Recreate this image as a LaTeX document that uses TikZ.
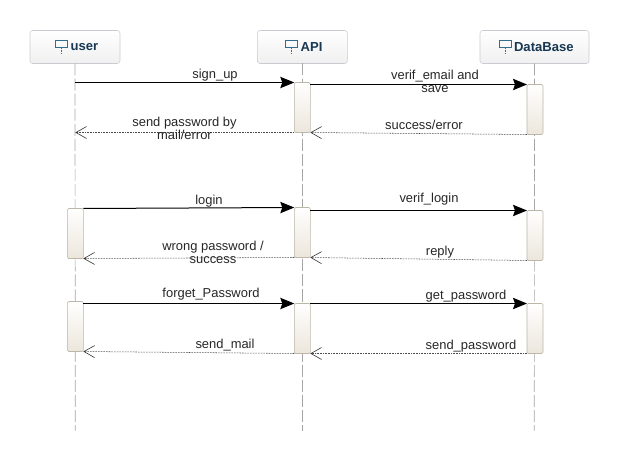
\documentclass[tikz,border=0pt]{standalone}
\usepackage{fontspec}
\setmainfont{Liberation Sans}
\usetikzlibrary{arrows.meta}

\definecolor{headtext}{RGB}{24,56,84}
\definecolor{headline}{RGB}{200,204,208}
\definecolor{iconblue}{RGB}{50,110,140}
\definecolor{barline}{RGB}{188,182,168}
\definecolor{barend}{RGB}{236,230,220}

\tikzset{
  headbox/.style={draw=headline, rounded corners=2pt, top color=white, bottom color=black!6, minimum width=67.5pt, minimum height=24.75pt, inner sep=0pt, outer sep=0pt, text=headtext, font=\fontsize{9.8}{11}\selectfont\bfseries},
  barbox/.style={draw=barline, rounded corners=1pt, top color=white, bottom color=barend, minimum width=12pt, minimum height=37.5pt, inner sep=0pt, outer sep=0pt},
  lifeline/.style={draw=black!35, line width=0.5pt, dash pattern={on 9pt off 2.3pt}},
  callarrow/.style={draw=black, line width=0.75pt, -{Stealth[length=10.5pt,width=8.5pt,inset=1.5pt]}},
  replyarrow/.style={draw=black!70, line width=0.4pt, dash pattern={on 1.2pt off 0.8pt}, -{Straight Barb[length=8pt,width=9pt,black!80,line width=0.45pt]}},
  msgtext/.style={inner sep=0pt, align=center, text=black!85, font=\fontsize{9.7}{9.75}\selectfont},
  iconline/.style={draw=iconblue, line width=0.55pt},
}

\begin{document}
\begin{tikzpicture}[x=0.75pt,y=0.75pt,yscale=-1,xscale=1]
\useasboundingbox (0,-0.5) rectangle (619,459.5);

%Head boxes
\node [headbox] (user) at (75,46.5) {\hspace{14pt}user};
\node [headbox] (api) at (302.3,46.5) {\hspace{14pt}API};
\node [headbox, minimum width=81.75pt] (db) at (534.5,46.5) {\hspace{14pt}DataBase};

%Icons
\draw [iconline] (55,39.5) rectangle (67,46.5);
\draw [iconline, dash pattern={on 1.5pt off 0.8pt}] (61,46.5) -- (61,53.5);
\draw [iconline] (285,39.5) rectangle (297,46.5);
\draw [iconline, dash pattern={on 1.5pt off 0.8pt}] (291,46.5) -- (291,53.5);
\draw [iconline] (499,39.5) rectangle (511,46.5);
\draw [iconline, dash pattern={on 1.5pt off 0.8pt}] (505,46.5) -- (505,53.5);

%Life lines
\coordinate (userend) at (75.3,430);
\coordinate (apiend) at (302.3,430);
\coordinate (dbend) at (534.3,430);
\draw [lifeline] (user.south) -- (userend);
\draw [lifeline] (api.south) -- (apiend);
\draw [lifeline] (db.south) -- (dbend);

%Activation bars
\node [barbox] (apia) at (302.3,107) {};
\node [barbox] (dba) at (535,109) {};
\node [barbox] (usera) at (75.3,233) {};
\node [barbox] (apib) at (302.3,232) {};
\node [barbox] (dbb) at (535,235) {};
\node [barbox] (userc) at (75.3,326) {};
\node [barbox] (apic) at (302.3,328) {};
\node [barbox] (dbc) at (535,328) {};

%Free ends on the user line
\coordinate (usertop) at (75.3,82);
\coordinate (userbot) at (75.3,132);

%First block
\draw [callarrow] (usertop) -- (apia.north west);
\draw [callarrow] (dba.north west -| apia.east) -- (dba.north west);
\draw [replyarrow] (dba.south west) -- (apia.south east);
\draw [replyarrow] (apia.south west) -- (userbot);

%Second block
\draw [callarrow] (usera.north east) -- (apib.north west);
\draw [callarrow] (dbb.north west -| apib.east) -- (dbb.north west);
\draw [replyarrow] (dbb.south west) -- (apib.south east);
\draw [replyarrow] (apib.south west) -- (usera.south east);

%Third block
\draw [callarrow] (userc.north east |- apic.north) -- (apic.north west);
\draw [callarrow] (apic.north east) -- (dbc.north west);
\draw [replyarrow] (dbc.south west) -- (apic.south east);
\draw [replyarrow] (apic.south west) -- (userc.south east);

% Text Node
\node [msgtext] (signup) at (215,74.5) {sign\_up};
\node [msgtext] (sendpw) at (184.5,127.5) {send password by\\mail/error};
\node [msgtext] (verifmail) at (435,80.5) {verif\_email and\\save};
\node [msgtext] (succ) at (424,124.5) {success/error};
\node [msgtext] (login) at (209,200.5) {login};
\node [msgtext] (wrongpw) at (213,252) {wrong password /\\success};
\node [msgtext] (forget) at (211,293.5) {forget\_Password};
\node [msgtext] (sendmail) at (225,344.5) {send\_mail};
\node [msgtext] (veriflogin) at (429,198.5) {verif\_login};
\node [msgtext] (reply) at (440,251.5) {reply};
\node [msgtext] (getpw) at (466,295.5) {get\_password};
\node [msgtext] (sendpass) at (471,345.5) {send\_password};

\end{tikzpicture}
\end{document}
